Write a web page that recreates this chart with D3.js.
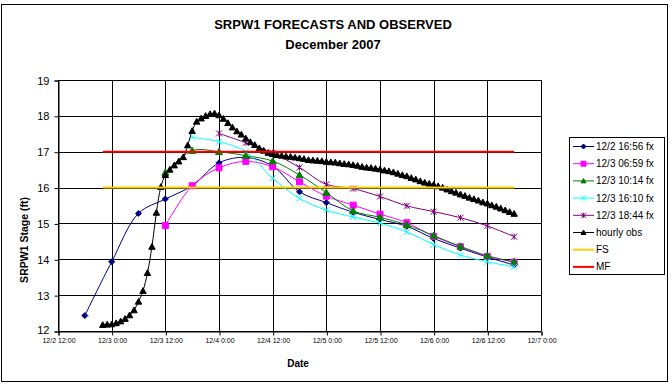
<!DOCTYPE html>
<html>
<head>
<meta charset="utf-8">
<script src="https://cdn.jsdelivr.net/npm/d3@7"></script>
<style>
  body { margin: 0; background: #fff; }
  svg { display: block; font-family: Arial, "Liberation Sans", sans-serif; }
</style>
</head>
<body>
<script>
// ---- data ----
var obsStart = "12/2 22:00";   // hourly obs, one value per hour
var obsValues = [
  12.17, 12.18, 12.19, 12.22, 12.27, 12.34, 12.44, 12.58, 12.82, 13.12,
  13.62, 14.35, 15.30, 16.02, 16.35, 16.50, 16.62, 16.73, 16.85, 17.18,
  17.58, 17.84, 17.93, 18.00, 18.05, 18.07, 18.02, 17.92, 17.80, 17.68,
  17.57, 17.48, 17.37, 17.27, 17.19, 17.10, 17.03, 16.97, 16.94, 16.91,
  16.89, 16.87, 16.86, 16.84, 16.82, 16.80, 16.77, 16.76, 16.75, 16.74,
  16.72, 16.71, 16.70, 16.68, 16.66, 16.65, 16.63, 16.61, 16.58, 16.56,
  16.55, 16.53, 16.51, 16.48, 16.46, 16.43, 16.39, 16.35, 16.32, 16.27,
  16.23, 16.18, 16.14, 16.11, 16.08, 16.04, 16.00, 15.95, 15.90, 15.86,
  15.81, 15.77, 15.72, 15.68, 15.64, 15.59, 15.56, 15.51, 15.47, 15.42,
  15.37, 15.32, 15.27
];

// forecasts, one value every 6 hours from the start time
var fx1Start = "12/2 18:00";
var fx1Values = [12.43, 13.93, 15.28, 15.68, 16.05, 16.69, 16.84, 16.60, 15.88, 15.58, 15.31, 15.11, 14.92, 14.58, 14.31, 14.06, 13.84];
var fx2Start = "12/3 12:00";
var fx2Values = [14.94, 16.05, 16.55, 16.73, 16.58, 16.16, 15.76, 15.51, 15.26, 15.02, 14.64, 14.35, 14.08, 13.92];
var fx3Start = "12/3 12:00";
var fx3Values = [16.42, 17.03, 17.00, 16.89, 16.74, 16.35, 15.86, 15.35, 15.17, 14.96, 14.66, 14.36, 14.10, 13.93];
var fx4Start = "12/3 18:00";
var fx4Values = [17.40, 17.28, 17.00, 16.26, 15.70, 15.37, 15.18, 15.01, 14.76, 14.41, 14.12, 13.93, 13.79];
var fx5Start = "12/4 00:00";
var fx5Values = [17.51, 17.25, 16.97, 16.56, 16.09, 15.97, 15.75, 15.49, 15.33, 15.16, 14.93, 14.63];

var floodStage = 16;
var moderateFlood = 17;

var seriesNames = ["12/2 16:56 fx", "12/3 06:59 fx", "12/3 10:14 fx", "12/3 16:10 fx", "12/3 18:44 fx", "hourly obs", "FS", "MF"];
var seriesColors = ["#000080", "#FF00FF", "#008000", "#00FFFF", "#800080", "#000000", "#FFCC00", "#FF0000"];
var seriesMarkers = ["diamond", "square", "triangle", "x", "star", "triangle", null, null];

var xDomain = ["12/2 12:00", "12/7 00:00"];
var yTicks = [12, 13, 14, 15, 16, 17, 18, 19];

// ---- helpers ----
var parseT = d3.timeParse("%Y/%m/%d %H:%M");
function t(s) { return parseT("2007/" + s); }

function build(start, values, stepHours) {
  var t0 = t(start);
  return values.map(function(v, i) {
    return { t: d3.timeHour.offset(t0, i * stepHours), v: v };
  });
}

var width = 672, height = 384;

var svg = d3.select('body')
  .append('svg')
  .attr('width', width)
  .attr('height', height);

svg.append('rect')
  .attr('x', 1.5).attr('y', 4.5)
  .attr('width', 666).attr('height', 377)
  .attr('fill', '#fff')
  .attr('stroke', '#000')
  .attr('stroke-width', 1);

var x = d3.scaleTime().domain(xDomain.map(t)).range([58, 541]);
var y = d3.scaleLinear().domain([12, 19]).range([331, 80]);

var xTickVals = d3.timeHour.every(12).range(t(xDomain[0]), d3.timeHour.offset(t(xDomain[1]), 1));

// gridlines
var grid = svg.append('g').attr('class', 'grid');
grid.selectAll('line.h')
  .data(yTicks)
  .enter().append('line')
  .attr('class', 'h')
  .attr('x1', x.range()[0]).attr('x2', x.range()[1])
  .attr('y1', function(d) { return Math.round(y(d)) + 0.5; })
  .attr('y2', function(d) { return Math.round(y(d)) + 0.5; })
  .attr('stroke', '#000');
grid.selectAll('line.v')
  .data(xTickVals)
  .enter().append('line')
  .attr('class', 'v')
  .attr('x1', function(d) { return Math.round(x(d)) + 0.5; })
  .attr('x2', function(d) { return Math.round(x(d)) + 0.5; })
  .attr('y1', y.range()[1]).attr('y2', y.range()[0])
  .attr('stroke', '#000');

// axes
var yAxis = svg.append('g')
  .attr('transform', 'translate(' + (x.range()[0] + 0.5) + ',0.5)')
  .call(d3.axisLeft(y).tickValues(yTicks).tickSize(4).tickPadding(5).tickFormat(d3.format('d')));
yAxis.selectAll('text').attr('font-size', 11).attr('font-family', 'Arial').attr('fill', '#000');
// lift the bottom label a touch so it clears the date labels
yAxis.selectAll('.tick').filter(function(d) { return d === 12; }).select('text').attr('dy', '0.2em');

var xAxis = svg.append('g')
  .attr('transform', 'translate(0.5,' + (y.range()[0] + 0.5) + ')')
  .call(d3.axisBottom(x).tickValues(xTickVals).tickSize(4).tickPadding(0).tickFormat(d3.timeFormat('%-m/%-d %-H:%M')));
xAxis.selectAll('text').attr('font-size', 7).attr('font-family', 'Arial').attr('fill', '#000').attr('dy', '1.05em');
svg.selectAll('.domain, .tick line').attr('stroke', '#000');

// marker shapes
function markerPath(kind, s) {
  switch (kind) {
    case 'diamond': return 'M0,' + (-s) + 'L' + s + ',0L0,' + s + 'L' + (-s) + ',0Z';
    case 'square': return 'M' + (-s) + ',' + (-s) + 'h' + (2 * s) + 'v' + (2 * s) + 'h' + (-2 * s) + 'Z';
    case 'triangle': return 'M0,' + (-s) + 'L' + s + ',' + (s * 0.8) + 'L' + (-s) + ',' + (s * 0.8) + 'Z';
    case 'x': return 'M' + (-s) + ',' + (-s) + 'L' + s + ',' + s + 'M' + s + ',' + (-s) + 'L' + (-s) + ',' + s;
    case 'star': return 'M' + (-s) + ',' + (-s) + 'L' + s + ',' + s + 'M' + s + ',' + (-s) + 'L' + (-s) + ',' + s + 'M0,' + (-s) + 'L0,' + s;
  }
  return '';
}

var line = d3.line()
  .x(function(d) { return x(d.t); })
  .y(function(d) { return y(d.v); })
  .curve(d3.curveCatmullRom.alpha(0.5));

var allSeries = [
  build(fx1Start, fx1Values, 6),
  build(fx2Start, fx2Values, 6),
  build(fx3Start, fx3Values, 6),
  build(fx4Start, fx4Values, 6),
  build(fx5Start, fx5Values, 6),
  build(obsStart, obsValues, 1)
];
var markerSize = [3, 3, 3.5, 3, 3, 3.2];

allSeries.forEach(function(data, i) {
  var g = svg.append('g').attr('class', 'series');
  g.append('path')
    .datum(data)
    .attr('d', line)
    .attr('fill', 'none')
    .attr('stroke', seriesColors[i])
    .attr('stroke-width', 1);
  var open = seriesMarkers[i] === 'x' || seriesMarkers[i] === 'star';
  g.selectAll('path.mark')
    .data(data)
    .enter().append('path')
    .attr('class', 'mark')
    .attr('transform', function(d) { return 'translate(' + x(d.t) + ',' + y(d.v) + ')'; })
    .attr('d', markerPath(seriesMarkers[i], markerSize[i]))
    .attr('fill', open ? 'none' : seriesColors[i])
    .attr('stroke', seriesColors[i])
    .attr('stroke-width', 1);
});

// flood stage lines across the obs period
var refStart = t(obsStart);
var refEnd = d3.timeHour.offset(refStart, obsValues.length - 1);
[floodStage, moderateFlood].forEach(function(v, i) {
  svg.append('line')
    .attr('x1', x(refStart)).attr('x2', x(refEnd))
    .attr('y1', y(v)).attr('y2', y(v))
    .attr('stroke', seriesColors[6 + i])
    .attr('stroke-width', 2);
});

// titles
svg.append('text')
  .attr('x', 333).attr('y', 29)
  .attr('text-anchor', 'middle')
  .attr('font-size', 13).attr('font-weight', 'bold')
  .text('SRPW1 FORECASTS AND OBSERVED');
svg.append('text')
  .attr('x', 333).attr('y', 49)
  .attr('text-anchor', 'middle')
  .attr('font-size', 13).attr('font-weight', 'bold')
  .text('December 2007');
svg.append('text')
  .attr('x', 298).attr('y', 367)
  .attr('text-anchor', 'middle')
  .attr('font-size', 10).attr('font-weight', 'bold')
  .text('Date');
svg.append('text')
  .attr('transform', 'translate(28,240) rotate(-90)')
  .attr('text-anchor', 'middle')
  .attr('font-size', 10.5).attr('font-weight', 'bold')
  .text('SRPW1 Stage (ft)');

// legend
var legend = svg.append('g').attr('transform', 'translate(569,137)');
legend.append('rect')
  .attr('x', 0.5).attr('y', 0.5)
  .attr('width', 95).attr('height', 137)
  .attr('fill', '#fff').attr('stroke', '#000');
var items = legend.selectAll('g.item')
  .data(seriesNames)
  .enter().append('g')
  .attr('class', 'item')
  .attr('transform', function(d, i) { return 'translate(0,' + (9.5 + i * 17.2) + ')'; });
items.append('line')
  .attr('x1', 4).attr('x2', 25)
  .attr('stroke', function(d, i) { return seriesColors[i]; })
  .attr('stroke-width', function(d, i) { return i >= 6 ? 2 : 1; });
items.filter(function(d, i) { return seriesMarkers[i]; })
  .append('path')
  .attr('transform', 'translate(14.5,0)')
  .attr('d', function(d) { return markerPath(seriesMarkers[seriesNames.indexOf(d)], 2.5); })
  .attr('fill', function(d) { var i = seriesNames.indexOf(d); return (seriesMarkers[i] === 'x' || seriesMarkers[i] === 'star') ? 'none' : seriesColors[i]; })
  .attr('stroke', function(d) { return seriesColors[seriesNames.indexOf(d)]; });
items.append('text')
  .attr('x', 27).attr('y', 0).attr('dy', '0.35em')
  .attr('font-size', 10)
  .text(function(d) { return d; });
</script>
</body>
</html>
